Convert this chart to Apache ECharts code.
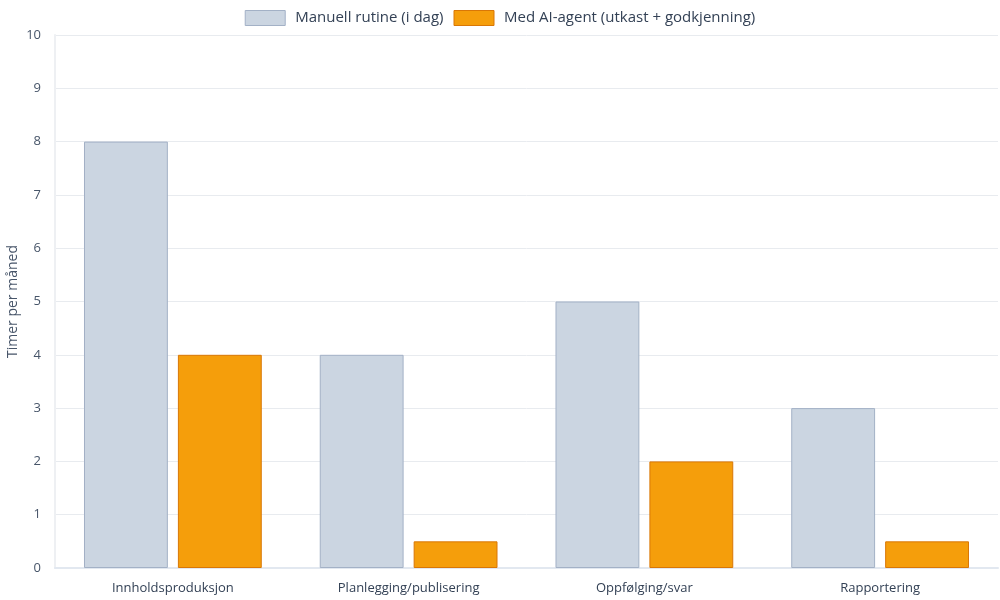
<!DOCTYPE html>
<html>
<head>
<meta charset="utf-8">
<script src="https://cdn.jsdelivr.net/npm/echarts@6/dist/echarts.min.js"></script>
<style>
  html, body { margin: 0; padding: 0; background: #fff; }
  #main { width: 1000px; height: 600px; }
</style>
</head>
<body>
<div id="main"></div>
<script>
  // oppgaver og timer per måned
  var categories = ["Innholdsproduksjon", "Planlegging/publisering", "Oppfølging/svar", "Rapportering"];
  var manualHours = [8, 4, 5, 3];
  var agentHours = [4, 0.5, 2, 0.5];
  var seriesNames = ["Manuell rutine (i dag)", "Med AI-agent (utkast + godkjenning)"];

  var chart = echarts.init(document.getElementById("main"));
  var fontFamily = "'Open Sans', 'Noto Sans', sans-serif";

  chart.setOption({
    animation: false,
    textStyle: { fontFamily: fontFamily },
    legend: {
      top: 5,
      left: "center",
      icon: "rect",
      itemWidth: 40,
      itemHeight: 15,
      itemGap: 10,
      itemStyle: { borderWidth: 1 },
      textStyle: { fontSize: 15, color: "#334155", fontFamily: fontFamily, padding: [0, 0, 0, 5] },
      data: seriesNames
    },
    grid: { left: 55, right: 2, top: 35, bottom: 32, outerBoundsMode: "none", containLabel: false },
    xAxis: {
      type: "category",
      data: categories,
      axisTick: { show: false },
      axisLine: { lineStyle: { color: "#e2e8f0", width: 2 } },
      axisLabel: { fontSize: 13, color: "#334155", margin: 14 }
    },
    yAxis: {
      type: "value",
      min: 0,
      max: 10,
      interval: 1,
      name: "Timer per måned",
      nameLocation: "middle",
      nameGap: 35,
      nameMoveOverlap: false,
      nameTextStyle: { fontSize: 14, color: "#475569" },
      axisLine: { show: true, lineStyle: { color: "#eef0f3", width: 2 } },
      axisLabel: { fontSize: 13, color: "#475569", margin: 14 },
      splitLine: { lineStyle: { color: "#e8ebef" } }
    },
    series: [
      {
        name: seriesNames[0],
        type: "bar",
        data: manualHours,
        barGap: "12%",
        barCategoryGap: "24.6%",
        itemStyle: { color: "#cbd5e1", borderColor: "#a3b1c6", borderWidth: 1 }
      },
      {
        name: seriesNames[1],
        type: "bar",
        data: agentHours,
        itemStyle: { color: "#f59e0b", borderColor: "#d97706", borderWidth: 1 }
      }
    ]
  });
</script>
</body>
</html>
